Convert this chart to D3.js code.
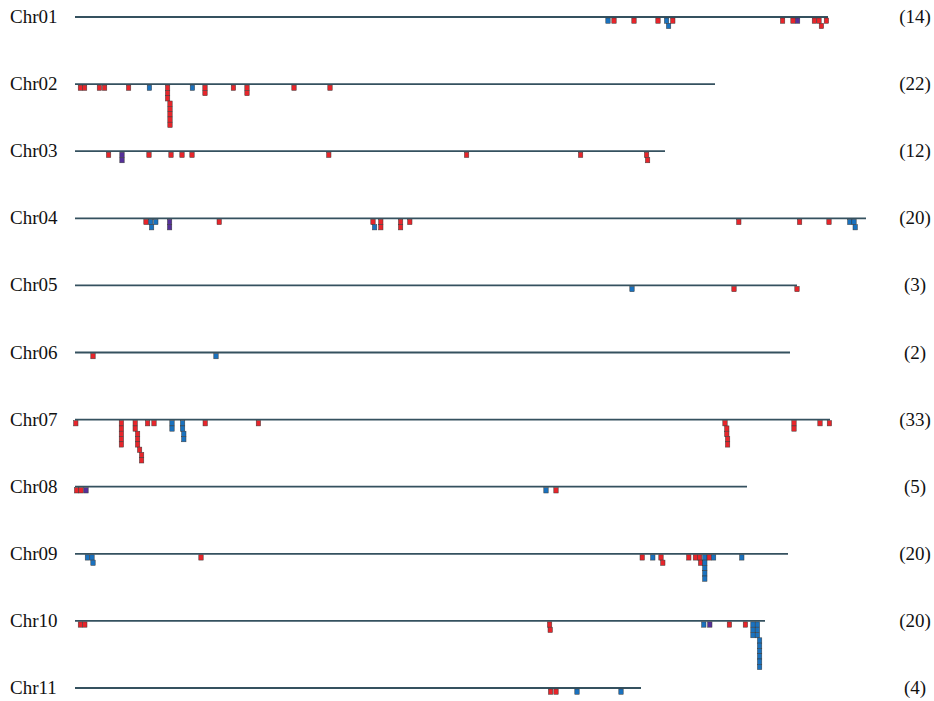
<!DOCTYPE html>
<html>
<head>
<meta charset="utf-8">
<script src="https://cdn.jsdelivr.net/npm/d3@7"></script>
<style>
  html, body { margin: 0; padding: 0; background: #fff; }
  svg { display: block; }
</style>
</head>
<body>
<svg id="chart" width="934" height="701"></svg>
<script>
// ---- DATA (positions in Mb) ----
const chromosomes = ["Chr01","Chr02","Chr03","Chr04","Chr05","Chr06","Chr07","Chr08","Chr09","Chr10","Chr11"];
const chrLengths  = [37.65, 32.0, 29.5, 39.55, 36.1, 35.75, 37.75, 33.6, 35.65, 34.5, 28.3];

// marker types: "up" (red), "down" (blue), "mixed" (purple)
const chr01 = [[26.65,"down"],[26.95,"up"],[27.95,"up"],[29.15,"up"],[29.58,"down"],[29.68,"down"],[29.89,"up"],
               [35.38,"up"],[35.9,"up"],[36.13,"mixed"],[36.97,"up"],[37.2,"up"],[37.32,"up"],[37.57,"up"]];
const chr02 = [[0.27,"up"],[0.48,"up"],[1.22,"up"],[1.48,"up"],[2.68,"up"],[3.72,"down"],
               [4.63,"up"],[4.63,"up"],[4.63,"up"],[4.75,"up"],[4.75,"up"],[4.75,"up"],[4.75,"up"],[4.75,"up"],
               [5.87,"down"],[6.5,"up"],[6.5,"up"],[7.92,"up"],[8.6,"up"],[8.6,"up"],[10.95,"up"],[12.75,"up"]];
const chr03 = [[1.68,"up"],[2.35,"mixed"],[2.35,"mixed"],[3.7,"up"],[4.8,"up"],[5.35,"up"],[5.85,"up"],
               [12.69,"up"],[19.58,"up"],[25.28,"up"],[28.58,"up"],[28.63,"up"]];
const chr04 = [[3.55,"up"],[3.78,"down"],[3.83,"down"],[4.04,"down"],[4.73,"mixed"],[4.73,"mixed"],[7.21,"up"],
               [14.9,"up"],[14.98,"down"],[15.29,"up"],[15.29,"up"],[16.28,"up"],[16.28,"up"],[16.74,"up"],
               [33.19,"up"],[36.23,"up"],[37.7,"up"],[38.74,"down"],[38.95,"down"],[39.01,"down"]];
const chr05 = [[27.85,"down"],[32.95,"up"],[36.1,"up"]];
const chr06 = [[0.9,"up"],[7.05,"down"]];
const chr07 = [[0.04,"up"],[2.32,"up"],[2.32,"up"],[2.32,"up"],[2.32,"up"],[2.32,"up"],
               [3.01,"up"],[3.01,"up"],[3.13,"up"],[3.13,"up"],[3.13,"up"],[3.23,"up"],[3.33,"up"],[3.33,"up"],
               [3.63,"up"],[3.95,"up"],[4.85,"down"],[4.85,"down"],[5.38,"down"],[5.38,"down"],[5.44,"down"],[5.44,"down"],
               [6.51,"up"],[9.17,"up"],[32.5,"up"],[32.59,"up"],[32.59,"up"],[32.63,"up"],[32.63,"up"],
               [35.95,"up"],[35.95,"up"],[37.25,"up"],[37.72,"up"]];
const chr08 = [[0.08,"up"],[0.3,"up"],[0.55,"mixed"],[23.55,"down"],[24.05,"up"]];
const chr09 = [[0.62,"down"],[0.85,"down"],[0.9,"down"],[6.3,"up"],[28.36,"up"],[28.89,"down"],[29.3,"up"],[29.39,"up"],
               [30.69,"up"],[31.02,"up"],[31.23,"up"],[31.28,"up"],
               [31.49,"down"],[31.49,"down"],[31.49,"down"],[31.49,"down"],[31.49,"down"],
               [31.71,"up"],[31.93,"down"],[33.34,"down"]];
const chr10 = [[0.27,"up"],[0.49,"up"],[23.73,"up"],[23.76,"up"],[31.44,"down"],[31.74,"mixed"],[32.72,"up"],[33.52,"up"],
               [33.9,"down"],[33.9,"down"],[33.9,"down"],[34.12,"down"],[34.12,"down"],[34.12,"down"],
               [34.23,"down"],[34.23,"down"],[34.23,"down"],[34.23,"down"],[34.23,"down"],[34.23,"down"]];
const chr11 = [[23.78,"up"],[24.05,"up"],[25.1,"down"],[27.3,"down"]];

const markers = [chr01, chr02, chr03, chr04, chr05, chr06, chr07, chr08, chr09, chr10, chr11];
const typeColors = { up: "#e8252b", down: "#1a72bf", mixed: "#55309a" };

// ---- LAYOUT ----
const svg = d3.select("#chart");
const x = d3.scaleLinear().domain([0, d3.max(chrLengths)]).range([75, 866]);
const y = d3.scalePoint().domain(chromosomes).range([17, 688]);
const boxW = 4.4, boxH = 5.3, stackGap = 3.9;

const g = svg.append("g");

chromosomes.forEach((chr, i) => {
  const cy = y(chr);
  const row = g.append("g");

  row.append("text")
    .attr("x", 10).attr("y", cy + 6)
    .attr("font-family", "'Liberation Serif', 'Times New Roman', serif")
    .attr("font-size", 19).attr("fill", "#111")
    .text(chr);

  row.append("line")
    .attr("x1", x(0)).attr("x2", x(chrLengths[i]))
    .attr("y1", cy).attr("y2", cy)
    .attr("stroke", "#35515f").attr("stroke-width", 1.8);

  // stack markers: a marker that overlaps the previous one goes one level lower
  const sorted = markers[i].map(d => ({ pos: d[0], type: d[1] }))
    .sort((a, b) => a.pos - b.pos);
  let prevX = -Infinity, prevLevel = -1;
  sorted.forEach(d => {
    const px = x(d.pos);
    d.level = (px - prevX < stackGap) ? prevLevel + 1 : 0;
    prevX = px; prevLevel = d.level;
  });

  row.selectAll("rect.m").data(sorted).join("rect")
    .attr("class", "m")
    .attr("x", d => x(d.pos) - boxW / 2)
    .attr("y", d => cy + 1 + d.level * boxH)
    .attr("width", boxW).attr("height", boxH)
    .attr("fill", d => typeColors[d.type])
    .attr("stroke", "#3a3a3a").attr("stroke-width", 0.5);

  row.append("text")
    .attr("x", 915).attr("y", cy + 6)
    .attr("text-anchor", "middle")
    .attr("font-family", "'Liberation Serif', 'Times New Roman', serif")
    .attr("font-size", 19).attr("fill", "#111")
    .text("(" + markers[i].length + ")");
});
</script>
</body>
</html>
